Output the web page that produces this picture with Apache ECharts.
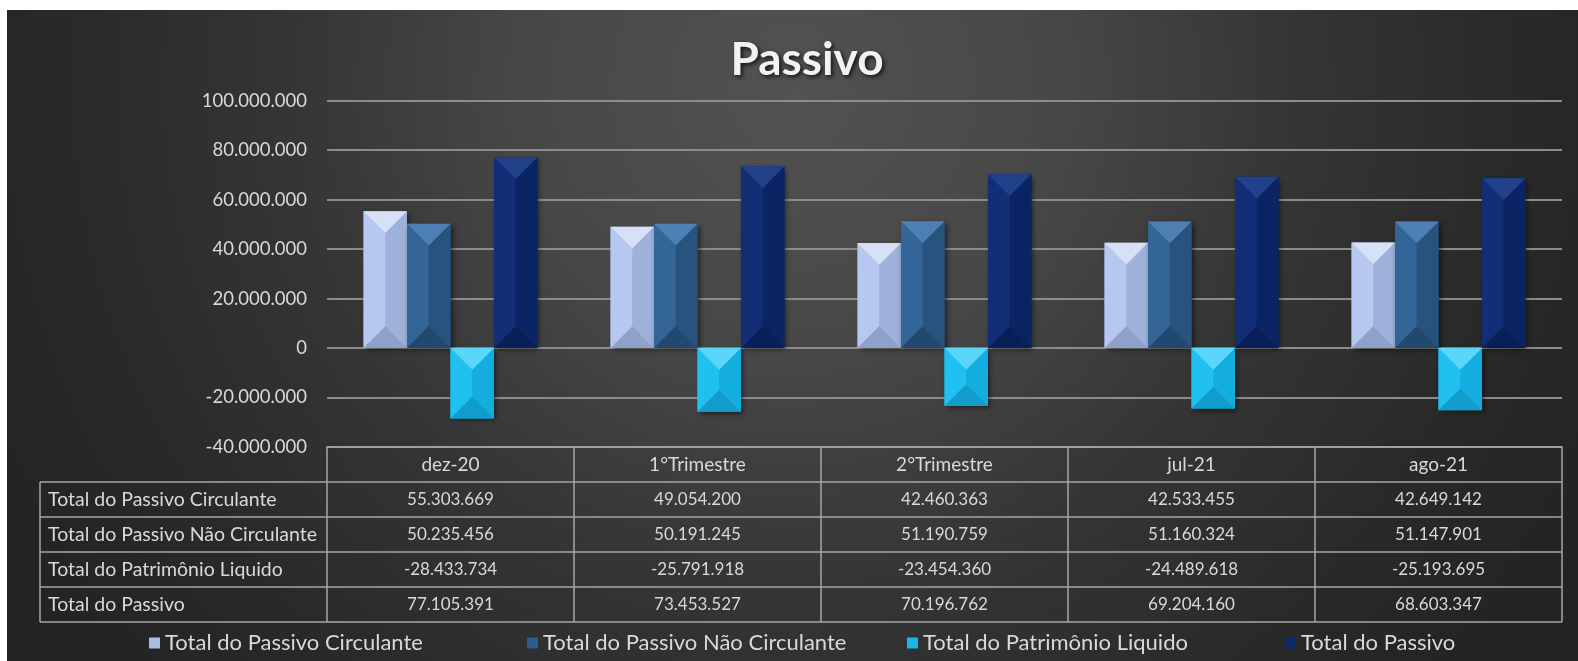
<!DOCTYPE html>
<html>
<head>
<meta charset="utf-8">
<script src="https://cdn.jsdelivr.net/npm/echarts@6/dist/echarts.min.js"></script>
<style>
  html, body { margin: 0; padding: 0; background: #fff; }
  #main { position: absolute; left: 7px; top: 10px; width: 1571px; height: 651px; }
</style>
</head>
<body>
<div id="main"></div>
<script>
// dados
const categories = ['dez-20', '1°Trimestre', '2°Trimestre', 'jul-21', 'ago-21'];
const seriesNames = [
  'Total do Passivo Circulante',
  'Total do Passivo Não Circulante',
  'Total do Patrimônio Liquido',
  'Total do Passivo'
];
const passivoCirculante = [55303669, 49054200, 42460363, 42533455, 42649142];
const passivoNaoCirculante = [50235456, 50191245, 51190759, 51160324, 51147901];
const patrimonioLiquido = [-28433734, -25791918, -23454360, -24489618, -25193695];
const totalPassivo = [77105391, 73453527, 70196762, 69204160, 68603347];
const seriesValues = [passivoCirculante, passivoNaoCirculante, patrimonioLiquido, totalPassivo];

// cores (bisel)
const palettes = [
  { base: '#a9bee7', top: '#d6e1f7', left: '#b6c8ef', right: '#9db1da', bottom: '#8fa1c8' },
  { base: '#2d5b8b', top: '#4f80b4', left: '#336597', right: '#29537f', bottom: '#224870' },
  { base: '#19b6e8', top: '#5ad6f8', left: '#20c1f0', right: '#14ade0', bottom: '#119ccc' },
  { base: '#0e296c', top: '#22418b', left: '#112e76', right: '#0b2464', bottom: '#0a1f58' }
];

const W = 1571;
const GRID_LEFT = 320;
const GRID_RIGHT = 16;
const GRID_TOP = 90.6;
const GRID_H = 346.4;
const GRID_W = W - GRID_LEFT - GRID_RIGHT;
const COL_W = GRID_W / categories.length;
const TABLE_TOP = GRID_TOP + GRID_H;
const HEADER_H = 35;
const ROW_H = 35;
const LABEL_LEFT = 33;
const BAR_RATIO = 0.176;
const LINE = '#a6a6a6';
const TXT = '#d9d9d9';
const FONT = 'Lato';

function fmt(n) {
  const s = Math.abs(n).toString().replace(/\B(?=(\d{3})+(?!\d))/g, '.');
  return (n < 0 ? '-' : '') + s;
}

function bevel(si) {
  const c = palettes[si];
  return function (params, api) {
    const cat = api.value(0);
    const v = api.value(1);
    const p0 = api.coord([cat, 0]);
    const p1 = api.coord([cat, v]);
    const band = api.size([1, 0])[0];
    const w = band * BAR_RATIO;
    const x0 = p0[0] + (si - 2) * w;
    const x1 = x0 + w;
    const cx = x0 + w / 2;
    const yA = Math.min(p0[1], p1[1]);
    const yB = Math.max(p0[1], p1[1]);
    const d = Math.min(w / 2, (yB - yA) / 2);
    return {
      type: 'group',
      children: [
        { type: 'rect', shape: { x: x0, y: yA, width: w, height: yB - yA },
          style: { fill: c.base, shadowBlur: 5, shadowColor: 'rgba(0,0,0,0.55)', shadowOffsetX: 2, shadowOffsetY: 2 } },
        { type: 'polygon', shape: { points: [[x0, yA], [cx, yA + d], [cx, yB - d], [x0, yB]] },
          style: { fill: c.left } },
        { type: 'polygon', shape: { points: [[x1, yA], [cx, yA + d], [cx, yB - d], [x1, yB]] },
          style: { fill: c.right } },
        { type: 'polygon', shape: { points: [[x0, yA], [x1, yA], [cx, yA + d]] },
          style: { fill: c.top } },
        { type: 'polygon', shape: { points: [[x0, yB], [x1, yB], [cx, yB - d]] },
          style: { fill: c.bottom } }
      ]
    };
  };
}

// tabela de dados
const graphics = [];
const tableBottom = TABLE_TOP + HEADER_H + ROW_H * seriesNames.length;
for (let r = 0; r <= seriesNames.length; r++) {
  const y = TABLE_TOP + HEADER_H + r * ROW_H;
  graphics.push({ type: 'line', silent: true,
    shape: { x1: LABEL_LEFT, y1: y, x2: GRID_LEFT + GRID_W, y2: y },
    style: { stroke: LINE, lineWidth: 1.5 } });
}
graphics.push({ type: 'line', silent: true,
  shape: { x1: LABEL_LEFT, y1: TABLE_TOP + HEADER_H, x2: LABEL_LEFT, y2: tableBottom },
  style: { stroke: LINE, lineWidth: 1.5 } });
for (let i = 0; i <= categories.length; i++) {
  const x = GRID_LEFT + i * COL_W;
  graphics.push({ type: 'line', silent: true,
    shape: { x1: x, y1: TABLE_TOP, x2: x, y2: tableBottom },
    style: { stroke: LINE, lineWidth: 1.5 } });
}
seriesNames.forEach(function (name, r) {
  const yc = TABLE_TOP + HEADER_H + (r + 0.5) * ROW_H;
  graphics.push({ type: 'text', silent: true, x: LABEL_LEFT + 8, y: yc,
    style: { text: name, fill: TXT, font: '19.5px ' + FONT, verticalAlign: 'middle', align: 'left' } });
  seriesValues[r].forEach(function (v, i) {
    graphics.push({ type: 'text', silent: true, x: GRID_LEFT + (i + 0.5) * COL_W, y: yc,
      style: { text: fmt(v), fill: TXT, font: '17px ' + FONT, verticalAlign: 'middle', align: 'center' } });
  });
});

const legendLefts = [142, 520, 900, 1278];

const chart = echarts.init(document.getElementById('main'), null, { renderer: 'canvas' });
chart.setOption({
  animation: false,
  backgroundColor: {
    type: 'radial', x: 0.5, y: 0.12, r: 1.4,
    colorStops: [
      { offset: 0, color: '#525252' },
      { offset: 0.3, color: '#474747' },
      { offset: 0.55, color: '#353535' },
      { offset: 0.8, color: '#292929' },
      { offset: 1, color: '#232323' }
    ]
  },
  title: {
    text: 'Passivo',
    left: 795,
    textAlign: 'center',
    top: 22,
    textStyle: {
      color: '#f2f2f2', fontFamily: FONT, fontWeight: 'bold', fontSize: 46,
      textShadowColor: 'rgba(0,0,0,0.75)', textShadowBlur: 4, textShadowOffsetX: 2, textShadowOffsetY: 2
    }
  },
  legend: legendLefts.map(function (l, i) {
    return {
      data: [seriesNames[i]],
      left: l, top: 622, padding: 0,
      itemWidth: 11, itemHeight: 11, itemGap: 6,
      icon: 'rect',
      textStyle: { color: TXT, fontFamily: FONT, fontSize: 22 }
    };
  }),
  grid: { left: GRID_LEFT, right: GRID_RIGHT, top: GRID_TOP, height: GRID_H },
  xAxis: {
    type: 'category',
    data: categories,
    axisLine: { show: true, onZero: false, lineStyle: { color: LINE, width: 1.5 } },
    axisTick: { show: false },
    axisLabel: { color: TXT, fontFamily: FONT, fontSize: 19, margin: 8, interval: 0 }
  },
  yAxis: {
    type: 'value',
    min: -40000000, max: 100000000, interval: 20000000,
    axisLine: { show: false },
    axisTick: { show: false },
    splitLine: { lineStyle: { color: '#8c8c8c', width: 2 } },
    axisLabel: { color: TXT, fontFamily: FONT, fontSize: 18.5, margin: 20, formatter: fmt }
  },
  graphic: graphics,
  series: seriesNames.map(function (name, si) {
    return {
      name: name,
      type: 'custom',
      renderItem: bevel(si),
      itemStyle: { color: palettes[si].base },
      encode: { x: 0, y: 1 },
      data: seriesValues[si].map(function (v, i) { return [i, v]; })
    };
  })
});
</script>
</body>
</html>
